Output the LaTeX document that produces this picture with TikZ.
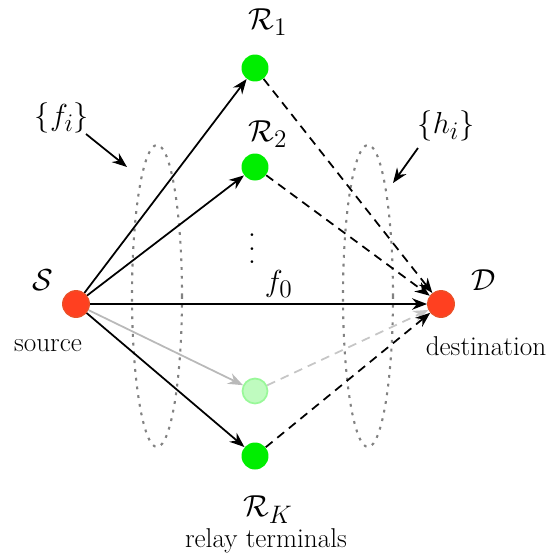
\documentclass[tikz,border=0pt]{standalone}
\usetikzlibrary{arrows.meta}
\definecolor{srcred}{RGB}{255,64,32}
\definecolor{srcedge}{RGB}{235,80,40}
\definecolor{relaygreen}{RGB}{0,238,0}
\definecolor{dotgray}{RGB}{130,130,130}

\begin{document}
\begin{tikzpicture}[x=0.02cm, y=-0.02cm, >={Stealth[length=8.5pt,width=6.5pt]},
    font=\fontsize{15.5}{18}\selectfont]
    \useasboundingbox (0,0) rectangle (555,558);
    \tikzset{
      terminal/.style={circle, fill=srcred, draw=srcedge, line width=0.8pt,
                       minimum size=0.53cm, inner sep=0pt},
      relay/.style={circle, fill=relaygreen, minimum size=0.54cm, inner sep=0pt},
      ghost/.style={circle, fill=relaygreen!25, draw=relaygreen!40, line width=1pt,
                    minimum size=0.5cm, inner sep=0pt},
      link/.style={->, line width=1pt},
      hop/.style={->, line width=1pt, dash pattern=on 5pt off 3.5pt},
      mathlbl/.style={font=\fontsize{19}{22}\selectfont},
      group/.style={dotgray, line width=1.2pt, dash pattern=on 1.6pt off 3.4pt}
    }

    % grouping of the two channel sets
    \draw[group] (157,296) ellipse [x radius=25, y radius=151];
    \draw[group] (368,296) ellipse [x radius=25, y radius=151];

    % terminals
    \node[terminal] (src) at (76,304) {};
    \node[terminal] (dst) at (441,304) {};
    \node[mathlbl] (srclbl) at (43,280) {$\mathcal{S}$};
    \node[mathlbl] (dstlbl) at (484,280) {$\mathcal{D}$};
    \node (srctxt) at (48,346) {source};
    \node (dsttxt) at (486,346) {destination};

    % relays
    \node[relay] (r1) at (255,68) {};
    \node[relay] (r2) at (255,167) {};
    \node[ghost] (rk1) at (255,391) {};
    \node[relay] (rk) at (255,456) {};
    \node[mathlbl] (r1lbl) at (268,22) {$\mathcal{R}_1$};
    \node[mathlbl] (r2lbl) at (268,134) {$\mathcal{R}_2$};
    \node[mathlbl] (rklbl) at (268,510) {$\mathcal{R}_K$};
    \node (rktxt) at (266,541) {relay terminals};
    \node[mathlbl] (vdots) at (252,249)
      {\vbox{\baselineskip=7.7pt \lineskiplimit=0pt \hbox{.}\hbox{.}\hbox{.}}};

    % first hop
    \draw[link] (src) -- (r1);
    \draw[link] (src) -- (r2);
    \draw[link, gray!55] (src) -- (rk1);
    \draw[link] (src) -- (rk);
    \draw[link] (src) -- node[mathlbl, above, pos=0.56] (f0) {$f_0$} (dst);

    % second hop
    \draw[hop] (r1) -- (dst);
    \draw[hop] (r2) -- (dst);
    \draw[hop, gray!45] (rk1) -- (dst);
    \draw[hop] (rk) -- (dst);

    % channel labels
    \node[mathlbl] (fi) at (62,118) {$\{f_i\}$};
    \node[mathlbl] (hi) at (446,126) {$\{h_i\}$};
    \coordinate (fitip) at (127,167);
    \coordinate (hitip) at (393,183);
    \draw[link] (86,134) -- (fitip);
    \draw[link] (418,148) -- (hitip);
\end{tikzpicture}
\end{document}
